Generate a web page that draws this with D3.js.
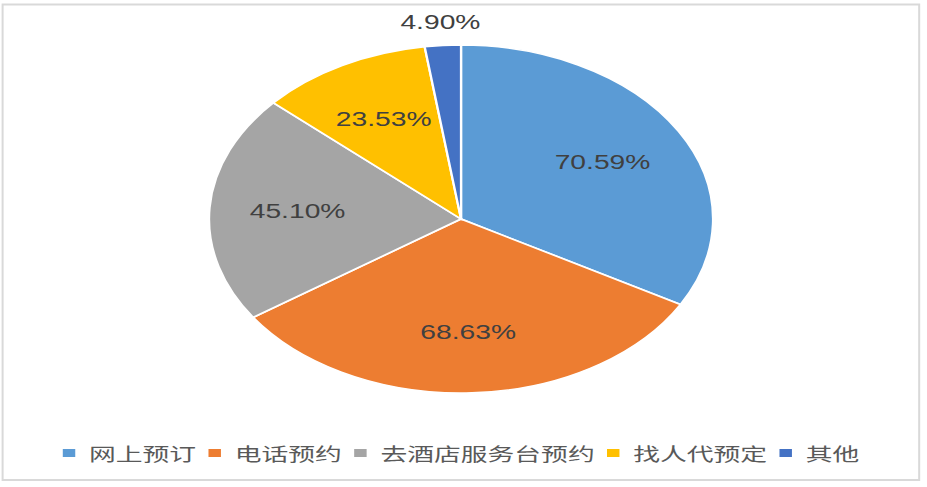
<!DOCTYPE html>
<html>
<head>
<meta charset="utf-8">
<script src="https://d3js.org/d3.v7.min.js"></script>
<style>
  body { margin: 0; background: #fff; }
</style>
</head>
<body>
<svg id="svgMain" width="927" height="487"></svg>
<script>
    // data
    const categories = ["网上预订", "电话预约", "去酒店服务台预约", "找人代预定", "其他"];
    const values = [70.59, 68.63, 45.10, 23.53, 4.90];
    const labels = ["70.59%", "68.63%", "45.10%", "23.53%", "4.90%"];
    const colors = ["#5B9BD5", "#ED7D31", "#A5A5A5", "#FFC000", "#4472C4"];

    // the original picture is stretched sideways, so draw in a narrower box and let it stretch
    const W = 640, H = 487;
    const svg = d3.select("#svgMain")
        .attr("viewBox", "0 0 " + W + " " + H)
        .attr("preserveAspectRatio", "none");

    // outer frame
    svg.append("rect")
        .attr("x", 1.8).attr("y", 4.5)
        .attr("width", 632.8).attr("height", 475.5)
        .attr("fill", "#fff")
        .attr("stroke", "#d9d9d9")
        .attr("stroke-width", 2)
        .attr("vector-effect", "non-scaling-stroke");

    const cx = 318.3, cy = 219, radius = 174;
    const chart = svg.append("g").attr("transform", "translate(" + cx + "," + cy + ")");

    const pieGen = d3.pie().sort(null).value(d => d);
    const arcs = pieGen(values);

    const arcGen = d3.arc().innerRadius(0).outerRadius(radius);
    const inLabel = d3.arc().innerRadius(radius * 0.65).outerRadius(radius * 0.65);
    const outLabel = d3.arc().innerRadius(radius + 23).outerRadius(radius + 23);

    chart.selectAll("path")
        .data(arcs)
        .join("path")
        .attr("d", arcGen)
        .attr("fill", (d, i) => colors[i])
        .attr("stroke", "#fff")
        .attr("stroke-width", 1.6);

    // small slices get their label outside the pie
    chart.selectAll("text.lbl")
        .data(arcs)
        .join("text")
        .attr("class", "lbl")
        .attr("transform", d => {
            let small = (d.endAngle - d.startAngle) < 0.3;
            return "translate(" + (small ? outLabel : inLabel).centroid(d) + ")";
        })
        .attr("text-anchor", "middle")
        .attr("dominant-baseline", "central")
        .attr("font-family", "'Liberation Sans', Arial, sans-serif")
        .attr("font-size", 19.5)
        .attr("fill", "#404040")
        .text((d, i) => labels[i]);

    // legend, centred under the pie
    const legend = svg.append("g");
    const legY = 453;
    let x = 0;
    categories.forEach((c, i) => {
        legend.append("rect")
            .attr("x", x).attr("y", legY - 4)
            .attr("width", 8.6).attr("height", 8)
            .attr("fill", colors[i]);
        x += 8.6 + 9.5;
        let t = legend.append("text")
            .attr("x", x).attr("y", legY)
            .attr("dominant-baseline", "central")
            .attr("font-family", "'Noto Sans CJK SC', sans-serif")
            .attr("font-size", 18.5)
            .attr("fill", "#595959")
            .text(c);
        x += t.node().getComputedTextLength() + 8.5;
    });
    x -= 8.5;
    legend.attr("transform", "translate(" + (cx - x / 2) + ",0)");
</script>
</body>
</html>
